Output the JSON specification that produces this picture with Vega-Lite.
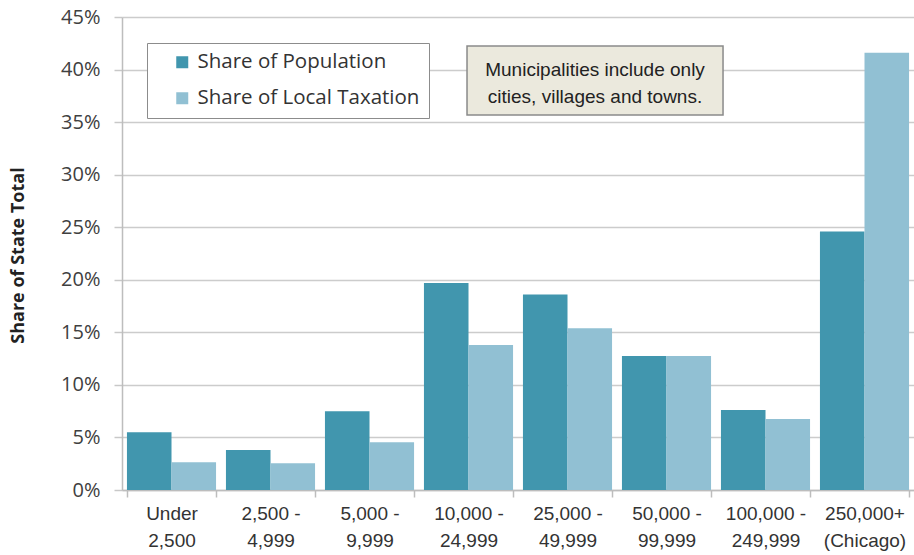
{
  "$schema": "https://vega.github.io/schema/vega-lite/v6.json",
  "width": 792,
  "height": 473,
  "autosize": {"type": "none"},
  "padding": {"left": 122, "top": 17, "right": 0, "bottom": 65},
  "background": "white",
  "config": {
    "view": {"stroke": null},
    "font": "Open Sans"
  },
  "datasets": {
    "bars": [
      {"group": "Under 2,500", "series": "Share of Population", "share": 5.5},
      {"group": "Under 2,500", "series": "Share of Local Taxation", "share": 2.65},
      {"group": "2,500 - 4,999", "series": "Share of Population", "share": 3.8},
      {"group": "2,500 - 4,999", "series": "Share of Local Taxation", "share": 2.55},
      {"group": "5,000 - 9,999", "series": "Share of Population", "share": 7.5},
      {"group": "5,000 - 9,999", "series": "Share of Local Taxation", "share": 4.55},
      {"group": "10,000 - 24,999", "series": "Share of Population", "share": 19.7},
      {"group": "10,000 - 24,999", "series": "Share of Local Taxation", "share": 13.8},
      {"group": "25,000 - 49,999", "series": "Share of Population", "share": 18.6},
      {"group": "25,000 - 49,999", "series": "Share of Local Taxation", "share": 15.4},
      {"group": "50,000 - 99,999", "series": "Share of Population", "share": 12.75},
      {"group": "50,000 - 99,999", "series": "Share of Local Taxation", "share": 12.75},
      {"group": "100,000 - 249,999", "series": "Share of Population", "share": 7.6},
      {"group": "100,000 - 249,999", "series": "Share of Local Taxation", "share": 6.75},
      {"group": "250,000+ (Chicago)", "series": "Share of Population", "share": 24.6},
      {"group": "250,000+ (Chicago)", "series": "Share of Local Taxation", "share": 41.6}
    ],
    "note": [
      {"text": ["Municipalities include only", "cities, villages and towns."]}
    ]
  },
  "layer": [
    {
      "data": {"name": "bars"},
      "mark": {"type": "bar"},
      "encoding": {
        "x": {
          "field": "group",
          "type": "nominal",
          "sort": null,
          "scale": {"paddingInner": 0.1, "paddingOuter": 0.05},
          "axis": {
            "title": null,
            "labelAngle": 0,
            "labelExpr": "split(replace(datum.label, regexp('(Under|-|[+]) '), '$1|'), '|')",
            "labelFont": "Liberation Sans",
            "labelFontSize": 19,
            "labelLineHeight": 27,
            "labelColor": "#333333",
            "labelPadding": 7,
            "tickBand": "extent",
            "tickSize": 7,
            "tickColor": "#bdbdbd",
            "tickWidth": 1.5,
            "domainColor": "#bdbdbd",
            "domainWidth": 1.5,
            "grid": false
          }
        },
        "xOffset": {
          "field": "series",
          "type": "nominal",
          "sort": ["Share of Population", "Share of Local Taxation"],
          "scale": {"paddingInner": 0, "paddingOuter": 0}
        },
        "y": {
          "field": "share",
          "type": "quantitative",
          "scale": {"domain": [0, 45], "nice": false},
          "axis": {
            "title": "Share of State Total",
            "titleFont": "Open Sans",
            "titleFontSize": 18,
            "titleFontWeight": "bold",
            "titleColor": "#222222",
            "titleX": -104,
            "titleY": 238,
            "titleAngle": -90,
            "titleAlign": "center",
            "titleBaseline": "middle",
            "values": [0, 5, 10, 15, 20, 25, 30, 35, 40, 45],
            "labelExpr": "datum.value + '%'",
            "labelFont": "Open Sans",
            "labelFontSize": 20,
            "labelColor": "#404040",
            "labelPadding": 14,
            "tickSize": 8,
            "tickColor": "#c8c8c8",
            "tickWidth": 1.5,
            "domainColor": "#bdbdbd",
            "domainWidth": 1.5,
            "grid": true,
            "gridColor": "#cccccc",
            "gridWidth": 1.5
          }
        },
        "color": {
          "field": "series",
          "type": "nominal",
          "scale": {
            "domain": ["Share of Population", "Share of Local Taxation"],
            "range": ["#4196ae", "#91c0d3"]
          },
          "legend": {
            "title": null,
            "orient": "none",
            "legendX": 25,
            "legendY": 26,
            "direction": "vertical",
            "fillColor": "white",
            "strokeColor": "#8c8c8c",
            "padding": 9,
            "symbolOffset": 16,
            "symbolType": "square",
            "symbolSize": 144,
            "symbolStrokeWidth": 0,
            "labelOffset": 5,
            "labelFont": "Open Sans",
            "labelFontSize": 20.5,
            "labelColor": "#333333",
            "labelLimit": 400,
            "rowPadding": 15
          }
        }
      }
    },
    {
      "data": {"name": "note"},
      "mark": {"type": "rect", "fill": "#ebe9dd", "stroke": "#8a8a8a", "strokeWidth": 1.5},
      "encoding": {
        "x": {"datum": 3.485, "type": "quantitative", "scale": {"domain": [0, 8], "nice": false}, "axis": null},
        "x2": {"datum": 6.071},
        "y": {"datum": 42.24, "type": "quantitative"},
        "y2": {"datum": 35.68}
      }
    },
    {
      "data": {"name": "note"},
      "mark": {"type": "text", "font": "Liberation Sans", "fontSize": 19, "color": "#222222", "lineHeight": 27, "align": "center", "baseline": "middle"},
      "encoding": {
        "x": {"datum": 4.778, "type": "quantitative", "scale": {"domain": [0, 8], "nice": false}, "axis": null},
        "y": {"datum": 39.96, "type": "quantitative"},
        "text": {"field": "text"}
      }
    }
  ],
  "resolve": {"scale": {"x": "independent"}, "axis": {"x": "independent"}}
}
